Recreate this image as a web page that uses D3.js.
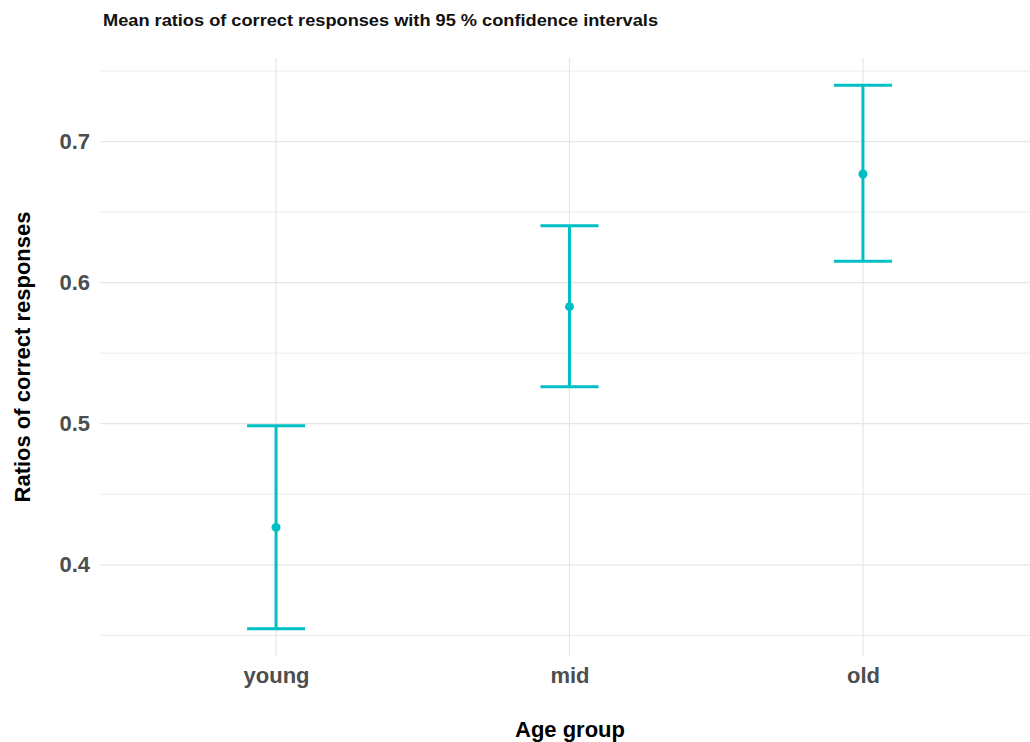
<!DOCTYPE html>
<html lang="en">
<head>
<meta charset="utf-8">
<title>Mean ratios</title>
<script src="https://cdn.jsdelivr.net/npm/d3@7"></script>
<style>
  body { margin: 0; background: #fff; }
  text { font-family: "Liberation Sans", Arial, sans-serif; font-weight: bold; }
</style>
</head>
<body>
<svg id="chart" width="1030" height="742"></svg>
<script>
// data
var groups = ["young", "mid", "old"];
var means = [0.4265, 0.583, 0.677];
var lower = [0.3546, 0.5262, 0.6151];
var upper = [0.4986, 0.6404, 0.740];
var yTicks = [0.4, 0.5, 0.6, 0.7];
var yMinor = [0.35, 0.45, 0.55, 0.65, 0.75];

var svg = d3.select("#chart");
var col = "#00BFC4";

// panel runs a bit past the right edge, like the original crop
var x = d3.scalePoint().domain(groups).range([100, 1039]).padding(0.6);
var lo = d3.min(lower), hi = d3.max(upper), pad = (hi - lo) * 0.05;
var y = d3.scaleLinear().domain([lo - pad, hi + pad]).range([656, 58]);

var grid = svg.append("g");
grid.selectAll(".minor").data(yMinor).enter().append("line")
  .attr("x1", 100).attr("x2", 1039)
  .attr("y1", function(d){ return y(d); }).attr("y2", function(d){ return y(d); })
  .attr("stroke", "#ececec").attr("stroke-width", 1);
grid.selectAll(".major").data(yTicks).enter().append("line")
  .attr("x1", 100).attr("x2", 1039)
  .attr("y1", function(d){ return y(d); }).attr("y2", function(d){ return y(d); })
  .attr("stroke", "#e6e6e6").attr("stroke-width", 1.2);
grid.selectAll(".vert").data(groups).enter().append("line")
  .attr("x1", function(d){ return x(d); }).attr("x2", function(d){ return x(d); })
  .attr("y1", 58).attr("y2", 656)
  .attr("stroke", "#e6e6e6").attr("stroke-width", 1.2);

// axes without lines, only labels
var yAxis = svg.append("g").attr("transform", "translate(100,0)")
  .call(d3.axisLeft(y).tickValues(yTicks).tickSize(0).tickPadding(10).tickFormat(d3.format(".1f")));
yAxis.select(".domain").remove();
yAxis.selectAll("text").attr("font-size", 22).attr("fill", "#4d4d4d")
  .attr("font-family", "Liberation Sans, Arial, sans-serif").attr("font-weight", "bold");

var xAxis = svg.append("g").attr("transform", "translate(0,656)")
  .call(d3.axisBottom(x).tickSize(0).tickPadding(11));
xAxis.select(".domain").remove();
xAxis.selectAll("text").attr("font-size", 22).attr("fill", "#4d4d4d")
  .attr("font-family", "Liberation Sans, Arial, sans-serif").attr("font-weight", "bold");

// error bars
var bars = svg.append("g");
groups.forEach(function(g, i){
  var cx = x(g);
  bars.append("line").attr("x1", cx).attr("x2", cx)
    .attr("y1", y(lower[i])).attr("y2", y(upper[i]))
    .attr("stroke", col).attr("stroke-width", 3);
  [lower[i], upper[i]].forEach(function(v){
    bars.append("line").attr("x1", cx - 29).attr("x2", cx + 29)
      .attr("y1", y(v)).attr("y2", y(v))
      .attr("stroke", col).attr("stroke-width", 3);
  });
  bars.append("circle").attr("cx", cx).attr("cy", y(means[i])).attr("r", 4.5).attr("fill", col);
});

// titles
svg.append("text").attr("x", 103).attr("y", 26).attr("font-size", 17).attr("fill", "#111")
  .attr("textLength", 555).attr("lengthAdjust", "spacingAndGlyphs")
  .text("Mean ratios of correct responses with 95 % confidence intervals");
svg.append("text").attr("x", 570).attr("y", 737).attr("text-anchor", "middle")
  .attr("font-size", 22).attr("fill", "#000").text("Age group");
svg.append("text").attr("transform", "translate(30,357) rotate(-90)").attr("text-anchor", "middle")
  .attr("font-size", 22).attr("fill", "#000").text("Ratios of correct responses");
</script>
</body>
</html>
